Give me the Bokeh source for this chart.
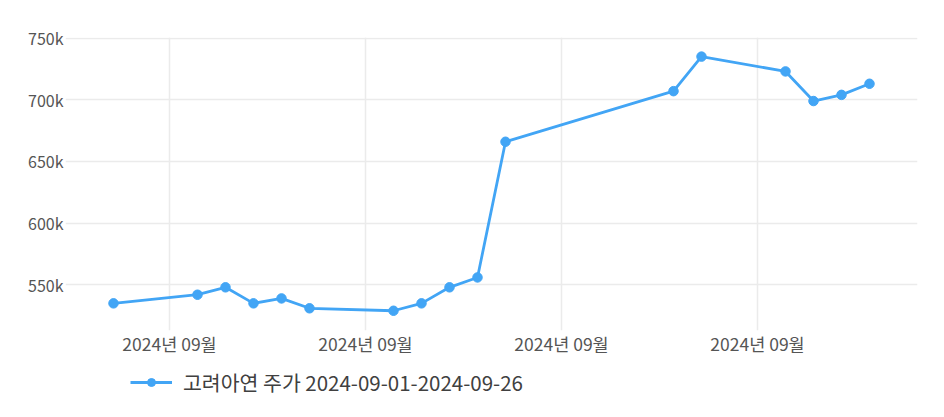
from datetime import datetime
from bokeh.plotting import figure
from bokeh.layouts import column
from bokeh.models import (ColumnDataSource, FixedTicker, DatetimeTickFormatter,
                          NumeralTickFormatter, Range1d, Legend, LegendItem)
from bokeh.embed import file_html
from bokeh.resources import INLINE

# ---- data ----
dates = ["2024-08-30", "2024-09-02", "2024-09-03", "2024-09-04", "2024-09-05",
         "2024-09-06", "2024-09-09", "2024-09-10", "2024-09-11", "2024-09-12",
         "2024-09-13", "2024-09-19", "2024-09-20", "2024-09-23", "2024-09-24",
         "2024-09-25", "2024-09-26"]
prices = [535000, 542000, 548000, 535000, 539000, 531000, 529000, 535000,
          548000, 556000, 666000, 707000, 735000, 723000, 699000, 704000, 713000]
x_tick_dates = ["2024-09-01", "2024-09-08", "2024-09-15", "2024-09-22"]
y_ticks = [550000, 600000, 650000, 700000, 750000]
series_label = "고려아연 주가 2024-09-01-2024-09-26"

FONT = "Noto Sans CJK KR"
BLUE = "#42a5f5"
GRID = "#ebebeb"

xs = [datetime.strptime(d, "%Y-%m-%d") for d in dates]
src = ColumnDataSource(dict(x=xs, y=prices))

def ms(d):
    return datetime.strptime(d, "%Y-%m-%d").timestamp() * 1000.0

day = 86400000.0
first = ms(dates[0])
x_start = first - (48 / 28) * day
x_end = first + (804 / 28) * day

p = figure(width=936, height=358, x_axis_type="datetime",
           output_backend="svg", toolbar_location=None,
           x_range=Range1d(x_start, x_end), y_range=Range1d(513000, 750500),
           min_border_left=65, min_border_right=19, min_border_top=37,
           min_border_bottom=27)
p.outline_line_color = None
p.background_fill_color = "white"
p.border_fill_color = "white"

line = p.line("x", "y", source=src, line_color=BLUE, line_width=2.8)
pts = p.scatter("x", "y", source=src, size=9.5, fill_color=BLUE, line_color=BLUE)

# axes
xa = p.xaxis[0]
xa.ticker = FixedTicker(ticks=[ms(d) for d in x_tick_dates])
xa.formatter = DatetimeTickFormatter(days="%Y년 %m월", months="%Y년 %m월",
                                     hours="%Y년 %m월")
xa.axis_line_color = None
xa.major_tick_line_color = None
xa.minor_tick_line_color = None
xa.major_tick_out = 0
xa.major_tick_in = 0
xa.minor_tick_out = 0
xa.major_label_text_font = FONT
xa.major_label_text_font_size = "17.5px"
xa.major_label_text_color = "#555555"
xa.major_label_standoff = 0

ya = p.yaxis[0]
ya.ticker = FixedTicker(ticks=y_ticks)
ya.formatter = NumeralTickFormatter(format="0a")
ya.axis_line_color = None
ya.major_tick_line_color = None
ya.minor_tick_line_color = None
ya.major_tick_out = 0
ya.major_tick_in = 0
ya.minor_tick_out = 0
ya.major_label_text_font = FONT
ya.major_label_text_font_size = "16px"
ya.major_label_text_color = "#555555"
ya.major_label_standoff = 2

p.xgrid.grid_line_color = GRID
p.xgrid.grid_line_width = 1.5
p.ygrid.grid_line_color = GRID
p.ygrid.grid_line_width = 1.5

# legend strip below the chart (same series, drawn out of view; only its legend shows)
lg = figure(width=936, height=50, output_backend="svg", toolbar_location=None,
            x_range=Range1d(0, 1), y_range=Range1d(0, 1),
            x_axis_location=None, y_axis_location=None, min_border=0)
lg.outline_line_color = None
lg.xgrid.visible = False
lg.ygrid.visible = False
lg_line = lg.line("x", "y", source=src, line_color=BLUE, line_width=2.8)
lg_pts = lg.scatter("x", "y", source=src, size=9.5, fill_color=BLUE, line_color=BLUE)

legend = Legend(items=[LegendItem(label=series_label, renderers=[lg_line, lg_pts])],
                location=(65, 11), orientation="horizontal",
                border_line_color=None, background_fill_alpha=0,
                margin=0, padding=0, spacing=0,
                glyph_width=42, glyph_height=20, label_standoff=11,
                label_text_font=FONT, label_text_font_size="20.5px",
                label_text_color="#404040")
lg.add_layout(legend, "center")

layout = column(p, lg, spacing=0)
open("out.html", "w").write(file_html(layout, INLINE))
